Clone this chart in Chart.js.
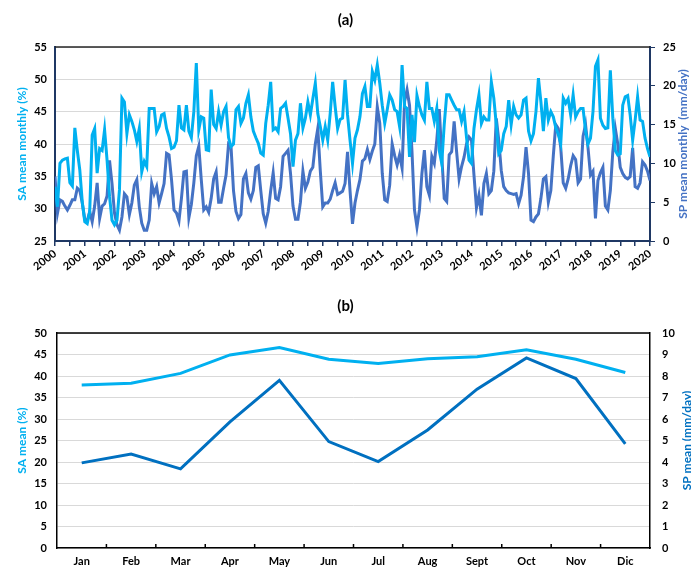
<!DOCTYPE html>
<html>
<head>
<meta charset="utf-8">
<title>SA / SP</title>
<script src="https://cdn.jsdelivr.net/npm/chart.js@4.4.1/dist/chart.umd.min.js"></script>
<style>
  html, body { margin: 0; padding: 0; background: #fff; }
  #wrap { position: relative; width: 691px; height: 569px; }
  .box { position: absolute; left: 0; width: 691px; }
</style>
</head>
<body>
<div id="wrap">
  <div class="box" style="top:0;height:285px"><canvas id="chartA"></canvas></div>
  <div class="box" style="top:285px;height:284px"><canvas id="chartB"></canvas></div>
</div>
<script>
// (a) monthly series, Jan 2000 .. Jan 2020, one row per year
var startYear = 2000;
var saMonthly = [
  33.4, 30.3, 37.0, 37.5, 37.7, 37.8, 34.0, 33.5, 42.5, 39.0, 36.0, 31.0,
  28.0, 27.7, 29.5, 41.4, 42.4, 35.5, 39.3, 39.0, 42.2, 37.5, 31.9, 28.2,
  27.5, 28.2, 32.9, 47.1, 46.5, 41.6, 44.5, 43.5, 42.2, 40.4, 42.4, 35.7,
  37.3, 36.5, 45.5, 45.5, 45.5, 41.9, 42.7, 44.5, 44.7, 42.4, 41.1, 39.3,
  39.5, 40.5, 46.0, 42.5, 42.2, 46.0, 42.0, 41.0, 45.0, 52.5, 42.2, 44.2,
  44.0, 39.1, 39.0, 48.4, 43.0, 42.4, 45.0, 42.9, 45.0, 45.8, 41.0, 39.6,
  40.0, 45.3, 45.8, 43.2, 44.0, 46.3, 47.6, 44.2, 42.0, 41.0, 40.1, 38.6,
  38.3, 43.2, 46.0, 49.6, 42.2, 42.5, 41.9, 45.5, 45.8, 46.3, 44.0, 41.6,
  36.5, 40.6, 41.6, 46.3, 42.5, 44.0, 46.5, 44.5, 47.0, 49.4, 44.7, 42.7,
  40.6, 42.7, 40.6, 44.7, 49.6, 45.8, 42.4, 43.8, 44.0, 49.9, 44.5, 40.6,
  37.0, 40.9, 42.2, 44.2, 47.8, 48.9, 45.8, 45.8, 51.2, 49.9, 52.2, 49.4,
  46.0, 43.2, 45.3, 47.6, 46.8, 45.3, 45.0, 42.7, 52.2, 45.8, 45.5, 38.0,
  44.5, 40.3, 47.5, 45.8, 44.5, 43.7, 49.6, 45.5, 45.5, 43.5, 45.5, 39.0,
  37.0, 43.0, 47.6, 47.6, 46.8, 46.0, 45.3, 45.3, 43.5, 45.0, 41.0, 37.5,
  37.0, 42.4, 45.3, 47.6, 43.2, 44.2, 43.7, 43.7, 49.6, 47.1, 43.0, 38.5,
  39.0, 41.6, 42.7, 46.8, 43.0, 45.8, 44.5, 44.0, 44.5, 46.8, 47.1, 42.0,
  40.5, 41.6, 45.0, 50.2, 46.5, 42.0, 47.1, 43.7, 45.0, 44.2, 42.5, 41.5,
  40.1, 47.1, 46.3, 47.0, 44.5, 47.6, 44.2, 45.0, 45.5, 45.5, 42.0, 40.0,
  40.9, 45.0, 52.0, 53.0, 44.0, 42.9, 42.4, 42.5, 51.4, 44.0, 39.0, 38.3,
  38.5, 46.0, 47.3, 47.5, 44.5, 40.6, 43.7, 47.3, 43.7, 43.5, 40.9, 39.3,
  38.0
];
var spMonthly = [
  8.3, 3.6, 5.3, 5.1, 4.5, 4.0, 4.6, 5.3, 5.3, 6.8, 6.5, 4.9,
  2.8, 2.6, 3.8, 2.5, 4.5, 7.5, 2.9, 4.5, 4.8, 5.8, 10.4, 7.4,
  3.6, 2.1, 1.4, 3.1, 6.1, 5.7, 3.4, 4.9, 7.2, 7.9, 4.4, 2.3,
  1.4, 1.4, 2.7, 7.4, 6.1, 7.0, 4.9, 6.1, 7.4, 11.3, 11.1, 7.9,
  4.0, 3.6, 2.6, 5.5, 8.9, 9.0, 3.0, 4.7, 7.5, 11.0, 12.2, 7.9,
  4.0, 4.4, 3.7, 5.5, 8.0, 8.9, 5.0, 5.0, 6.8, 8.5, 12.5, 12.2,
  6.5, 3.8, 2.9, 3.4, 8.0, 8.7, 6.2, 5.4, 6.5, 9.5, 9.7, 6.5,
  3.5, 2.3, 3.8, 6.5, 8.8, 5.5, 5.3, 7.0, 10.9, 11.3, 11.7, 8.7,
  4.5, 2.8, 2.8, 5.0, 9.0, 6.8, 7.6, 9.0, 9.5, 12.5, 14.5, 9.1,
  4.4, 4.9, 4.9, 5.4, 6.5, 7.5, 6.0, 6.2, 6.4, 7.4, 11.5, 6.5,
  2.2, 4.9, 6.5, 7.9, 10.3, 10.6, 11.8, 10.5, 11.6, 12.5, 17.3, 15.2,
  8.7, 5.3, 5.1, 7.2, 12.5, 11.0, 9.8, 11.1, 9.4, 18.0, 19.5, 17.5,
  11.5, 4.0, 1.8, 4.0, 8.7, 11.7, 7.0, 5.9, 10.9, 10.0, 13.0, 17.0,
  11.0, 5.5, 5.1, 11.1, 11.5, 15.4, 11.5, 8.0, 9.6, 10.8, 12.5, 13.4,
  13.0, 8.5, 4.3, 5.9, 3.3, 7.4, 8.7, 6.1, 6.5, 9.0, 15.8, 13.0,
  9.1, 7.0, 6.5, 6.2, 6.1, 6.0, 6.1, 4.8, 5.9, 8.3, 12.1, 8.7,
  2.7, 2.5, 3.1, 3.5, 5.5, 8.0, 8.3, 5.0, 6.5, 11.0, 15.0, 14.5,
  12.0, 7.5, 6.8, 8.0, 9.7, 11.0, 10.5, 7.5, 8.0, 13.5, 15.0, 12.0,
  8.5, 9.0, 2.9, 7.8, 8.8, 9.5, 4.5, 4.0, 6.5, 11.5, 14.5, 12.5,
  9.5, 8.7, 8.2, 8.0, 8.3, 12.0, 7.0, 6.8, 7.5, 10.2, 9.8, 9.0,
  7.8
];

// (b) mean seasonal cycle
var months = ['Jan', 'Feb', 'Mar', 'Apr', 'May', 'Jun', 'Jul', 'Aug', 'Sept', 'Oct', 'Nov', 'Dic'];
var saMean = [37.9, 38.3, 40.6, 44.9, 46.6, 43.9, 42.9, 44.0, 44.5, 46.1, 43.9, 40.8];
var spMean = [3.96, 4.37, 3.68, 5.87, 7.8, 4.95, 4.02, 5.49, 7.39, 8.84, 7.88, 4.84];

var LIGHT = '#00B0F0';
var DARK_A = '#4472C4';
var DARK_B = '#0070C0';
var NAVY = '#1F3864';
var GRID = '#D9D9D9';

Chart.defaults.font.family = 'Lato, "Open Sans", sans-serif';
Chart.defaults.color = '#000';

var tickFont = { size: 11, weight: 'bold' };
var titleFont = { size: 12, weight: 'bold' };

// Excel style vertical title on the right (reads bottom to top)
var sideTitle = {
  id: 'sideTitle',
  afterDraw: function(chart, args, opts) {
    var ctx = chart.ctx;
    var s = chart.scales[opts.scale];
    ctx.save();
    ctx.translate(s.right - opts.inset, (s.top + s.bottom) / 2);
    ctx.rotate(-Math.PI / 2);
    ctx.font = 'bold 12px Lato, "Open Sans", sans-serif';
    ctx.fillStyle = opts.color;
    ctx.textAlign = 'center';
    ctx.textBaseline = 'middle';
    ctx.fillText(opts.text, 0, 0);
    ctx.restore();
  }
};

// top edge of the plot area
var frame = {
  id: 'frame',
  beforeDatasetsDraw: function(chart, args, opts) {
    var ctx = chart.ctx, a = chart.chartArea;
    ctx.save();
    ctx.strokeStyle = opts.color;
    ctx.lineWidth = opts.width;
    ctx.beginPath();
    ctx.moveTo(a.left, a.top);
    ctx.lineTo(a.right, a.top);
    ctx.stroke();
    ctx.restore();
  }
};

// small tick marks pointing into the plot, between categories
var innerTicks = {
  id: 'innerTicks',
  afterDatasetsDraw: function(chart, args, opts) {
    if (!opts.len) return;
    var ctx = chart.ctx, x = chart.scales.x, bottom = chart.chartArea.bottom;
    ctx.save();
    ctx.strokeStyle = opts.color;
    ctx.lineWidth = 1.5;
    ctx.beginPath();
    for (var i = 1; i < chart.data.labels.length; i++) {
      var px = (x.getPixelForValue(i - 1) + x.getPixelForValue(i)) / 2;
      ctx.moveTo(px, bottom);
      ctx.lineTo(px, bottom - opts.len);
    }
    ctx.stroke();
    ctx.restore();
  }
};

var toXY = function(arr) {
  return arr.map(function(v, i) { return { x: startYear + i / 12, y: v }; });
};

new Chart(document.getElementById('chartA'), {
  type: 'line',
  data: {
    datasets: [
      {
        label: 'SA mean monthly (%)',
        data: toXY(saMonthly),
        yAxisID: 'ySA',
        borderColor: LIGHT,
        borderWidth: 3,
        pointRadius: 0,
        tension: 0
      },
      {
        label: 'SP mean monthly (mm/day)',
        data: toXY(spMonthly),
        yAxisID: 'ySP',
        borderColor: DARK_A,
        borderWidth: 3,
        pointRadius: 0,
        tension: 0
      }
    ]
  },
  plugins: [sideTitle, frame],
  options: {
    responsive: true,
    maintainAspectRatio: false,
    animation: false,
    layout: { padding: 0 },
    plugins: {
      legend: { display: false },
      tooltip: { enabled: false },
      title: {
        display: true,
        text: '(a)',
        color: '#000',
        font: { size: 15, weight: 'bold' },
        padding: { top: 11, bottom: 18 }
      },
      sideTitle: { scale: 'ySP', text: 'SP mean monthly  (mm/day)', color: DARK_A, inset: 8 },
      frame: { color: '#262626', width: 1.5 }
    },
    scales: {
      x: {
        type: 'linear',
        min: 2000,
        max: 2020,
        afterFit: function(s) { s.height = 44; },
        grid: { drawOnChartArea: false, color: NAVY, tickLength: 5, lineWidth: 1.5 },
        border: { color: NAVY, width: 2 },
        ticks: {
          stepSize: 0.5,
          maxTicksLimit: 100,
          autoSkip: false,
          minRotation: 38,
          maxRotation: 38,
          padding: 1,
          font: tickFont,
          callback: function(v) { return Number.isInteger(v) ? String(v) : ''; }
        }
      },
      ySA: {
        position: 'left',
        min: 25,
        max: 55,
        afterFit: function(s) { s.width = 55; },
        grid: { color: GRID, drawTicks: false },
        border: { color: NAVY, width: 2 },
        ticks: { stepSize: 5, padding: 8, font: tickFont },
        title: { display: true, text: 'SA mean monthly (%)', color: LIGHT, font: titleFont, padding: { top: 15, bottom: 0 } }
      },
      ySP: {
        position: 'right',
        min: 0,
        max: 25,
        afterFit: function(s) { s.width = 41; },
        grid: { drawOnChartArea: false, color: NAVY, tickLength: 5 },
        border: { color: NAVY, width: 2 },
        ticks: { stepSize: 5, padding: 8, font: tickFont }
      }
    }
  }
});

new Chart(document.getElementById('chartB'), {
  type: 'line',
  data: {
    labels: months,
    datasets: [
      {
        label: 'SA mean (%)',
        data: saMean,
        yAxisID: 'ySA',
        borderColor: LIGHT,
        borderWidth: 3,
        pointRadius: 0,
        tension: 0
      },
      {
        label: 'SP mean (mm/day)',
        data: spMean,
        yAxisID: 'ySP',
        borderColor: DARK_B,
        borderWidth: 3,
        pointRadius: 0,
        tension: 0
      }
    ]
  },
  plugins: [sideTitle, frame, innerTicks],
  options: {
    responsive: true,
    maintainAspectRatio: false,
    animation: false,
    layout: { padding: 0 },
    plugins: {
      legend: { display: false },
      tooltip: { enabled: false },
      title: {
        display: true,
        text: '(b)',
        color: '#000',
        font: { size: 15, weight: 'bold' },
        padding: { top: 12, bottom: 18 }
      },
      sideTitle: { scale: 'ySP', text: 'SP mean (mm/day)', color: DARK_B, inset: 4 },
      frame: { color: '#000', width: 1.5 },
      innerTicks: { color: '#000', len: 4 }
    },
    scales: {
      x: {
        offset: true,
        afterFit: function(s) { s.height = 21; },
        grid: { offset: true, drawOnChartArea: false, drawTicks: false },
        border: { color: '#000', width: 1.5 },
        ticks: { padding: 7, font: tickFont, maxRotation: 0 }
      },
      ySA: {
        position: 'left',
        min: 0,
        max: 50,
        afterFit: function(s) { s.width = 57; },
        grid: { color: GRID, drawTicks: false },
        border: { color: '#000', width: 1.5 },
        ticks: { stepSize: 5, padding: 10, font: tickFont },
        title: { display: true, text: 'SA mean (%)', color: LIGHT, font: titleFont, padding: { top: 15, bottom: 0 } }
      },
      ySP: {
        position: 'right',
        min: 0,
        max: 10,
        afterFit: function(s) { s.width = 41; },
        grid: { drawOnChartArea: false, drawTicks: false },
        border: { color: '#000', width: 1.5 },
        ticks: { stepSize: 1, padding: 12, font: tickFont }
      }
    }
  }
});
</script>
</body>
</html>
